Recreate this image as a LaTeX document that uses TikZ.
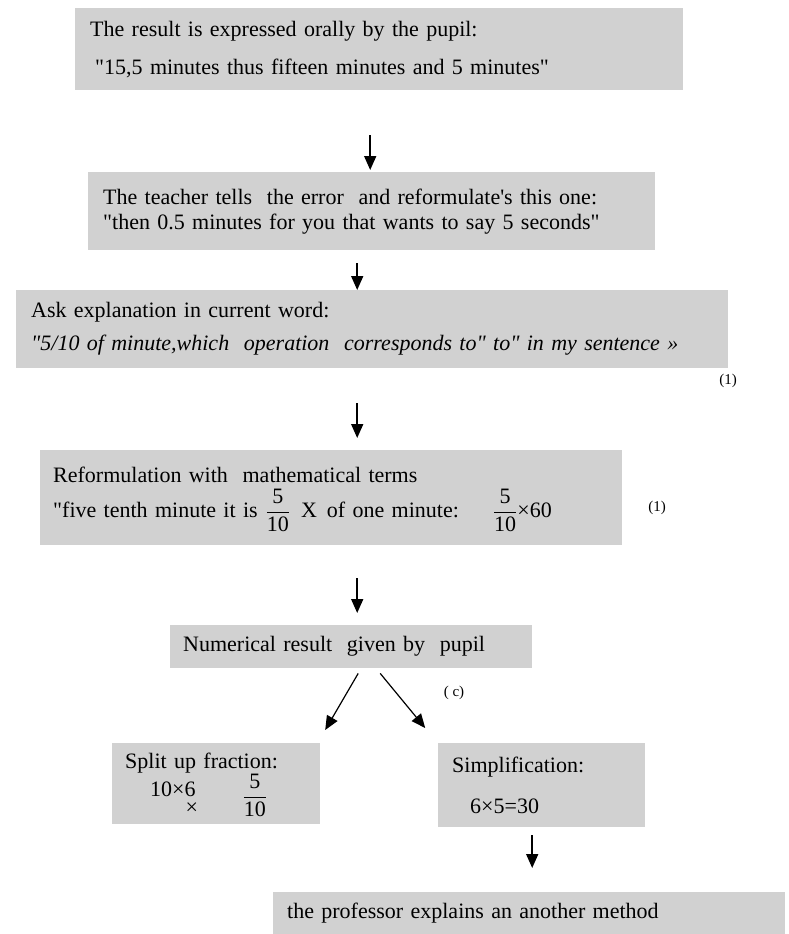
\documentclass[tikz,border=0pt]{standalone}
\usepackage{amsmath}
\usepackage{fontspec}
\setmainfont{Liberation Serif}[Ligatures=TeXOff]
\usetikzlibrary{positioning, arrows.meta}
\definecolor{boxgray}{gray}{0.82}

\begin{document}
\begin{tikzpicture}[
        x=1pt, y=-1pt,
        font=\fontsize{22}{25}\selectfont,
        block/.style={
            rectangle,
            fill=boxgray,
            anchor=north west,
            inner xsep=15pt,
            inner ysep=0pt,
            align=left
        },
        remark/.style={font=\fontsize{15}{17}\selectfont, inner sep=0pt},
        line/.style={draw, -{Triangle[length=14pt, width=12pt]}, line width=1.6pt},
        thinline/.style={line, line width=1.2pt}
    ]
        \useasboundingbox (0,0) rectangle (788,934);

        % Nodes
        \node [block, text width=578pt, minimum height=82pt] (oral) at (75,8)
            {The result is expressed orally by the pupil:\\[13pt]
             \hspace*{5pt}"15,5 minutes thus fifteen minutes and 5 minutes"};
        \node [block, text width=537pt, minimum height=78pt] (teacher) at (88,172)
            {The teacher tells~ the error~ and reformulate's this one:\\
             "then 0.5 minutes for you that wants to say 5 seconds"};
        \node [block, text width=682pt, minimum height=78pt] (ask) at (16,290)
            {Ask explanation in current word:\\[8pt]
             \textit{"5/10 of minute,which~ operation~ corresponds to" to" in my sentence »}};
        \node [block, inner xsep=13pt, text width=556pt, minimum height=95pt] (reform) at (40,450)
            {\rule{0pt}{19pt}Reformulation with~ mathematical terms\\[5pt]
             "five tenth minute it is\hspace{8pt}$\dfrac{\text{5}}{\text{10}}$\hspace{11pt}X\hspace{10pt}of one minute:\hspace{34pt}$\dfrac{\text{5}}{\text{10}}$×60};
        \node [block, inner xsep=13pt, text width=336pt, minimum height=43pt] (numres) at (170,625)
            {Numerical result~ given by~ pupil};
        \node [block, inner xsep=13pt, text width=182pt, minimum height=81pt] (split) at (112,743)
            {Split up fraction:\\[3pt]
             \hspace*{25pt}10×6\rlap{\kern-10pt\raisebox{-18pt}{×}}\hspace{47pt}\smash{\raisebox{-6pt}{$\dfrac{\text{5}}{\text{10}}$}}};
        \node [block, inner xsep=14pt, text width=179pt, minimum height=84pt] (simpl) at (438,743)
            {Simplification:\\[16pt]
             \hspace*{18pt}6×5=30};
        \node [block, inner xsep=14pt, text width=484pt, minimum height=42pt] (prof) at (273,892)
            {the professor explains an another method};

        % Remarks
        \node [remark] (mark1) at (728,381) {(1)};
        \node [remark] (mark2) at (657,508) {(1)};
        \node [remark] (markc) at (454,693) {(~c)};

        % Paths
        \path [line, shorten <=45pt, shorten >=2pt] ([xshift=-9pt]oral.south) -- ([xshift=-1.5pt]teacher.north);
        \path [line, shorten <=13pt] ([xshift=-14.5pt]teacher.south) -- ([xshift=-15pt]ask.north);
        \path [line, shorten <=35pt, shorten >=12pt] ([xshift=-15pt]ask.south) -- ([xshift=26pt]reform.north);
        \path [line, shorten <=33pt, shorten >=12pt] ([xshift=26pt]reform.south) -- ([xshift=6pt]numres.north);
        \path [thinline] ([xshift=7pt,yshift=-5pt]numres.south) -- ([xshift=109pt,yshift=13pt]split.north);
        \path [thinline] ([xshift=29pt,yshift=-5pt]numres.south) -- ([xshift=-116.5pt,yshift=15pt]simpl.north);
        \path [line, shorten <=8pt, shorten >=24pt] ([xshift=-9.5pt]simpl.south) -- ([xshift=3pt]prof.north);
    \end{tikzpicture}
\end{document}
